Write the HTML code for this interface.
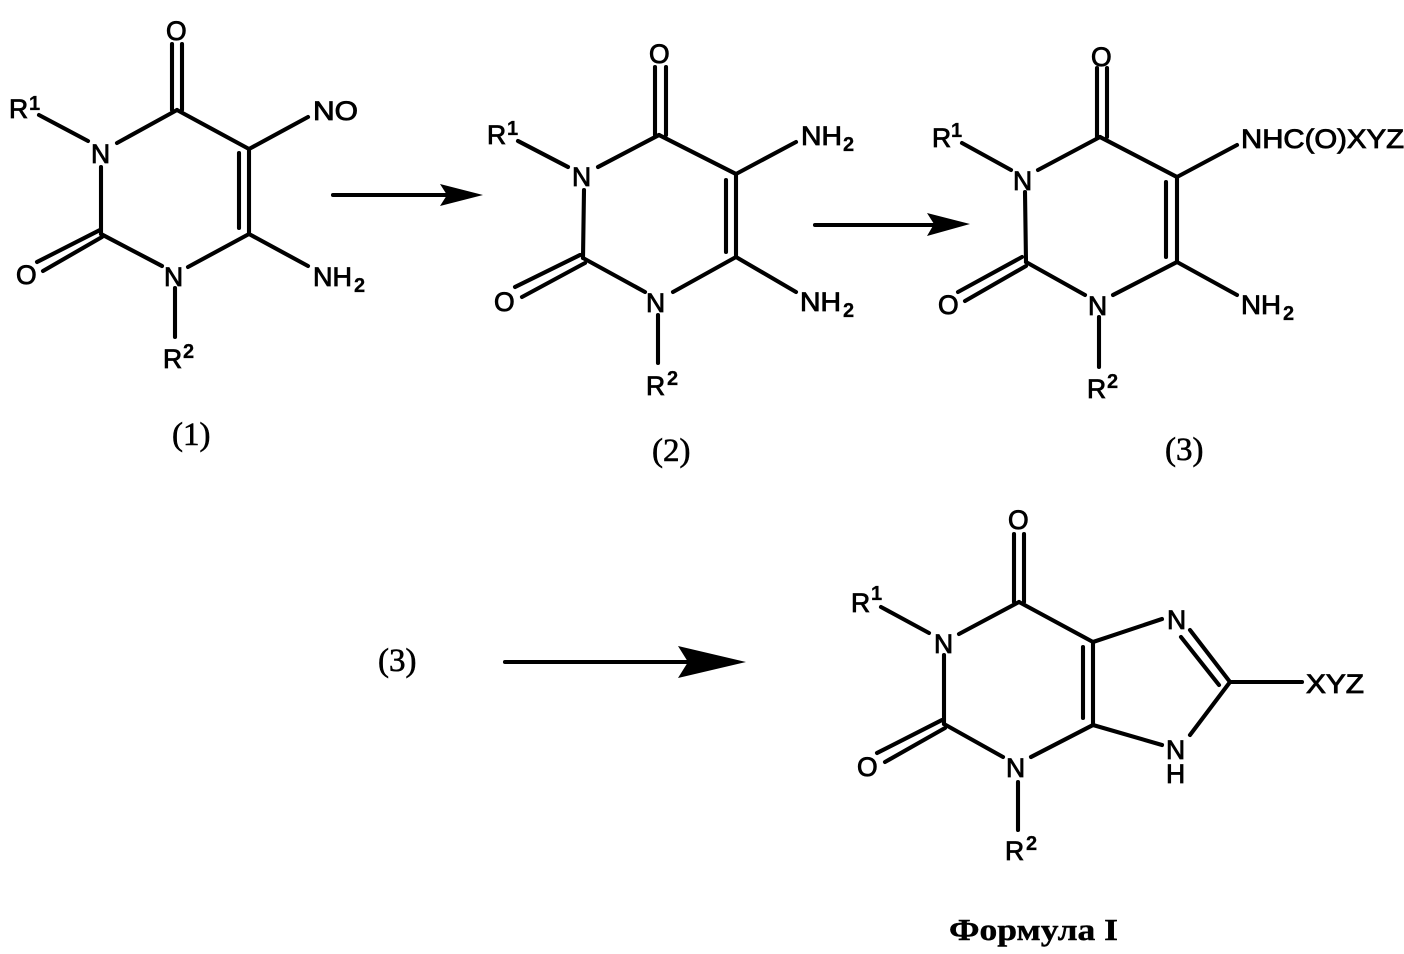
<!DOCTYPE html>
<html><head><meta charset="utf-8"><style>
html,body{margin:0;padding:0;background:#fff}
svg{display:block}
text{font-family:"Liberation Sans",sans-serif;font-size:26.5px;fill:#000;stroke:#000;stroke-width:.85px}
.s{font-size:20px;font-weight:bold;stroke-width:.3px}
.r{font-family:"Liberation Serif",serif;font-size:33px;stroke-width:.6px}
line{stroke:#000;stroke-width:4.1;stroke-linecap:round}
</style></head><body>
<svg width="1404" height="954" viewBox="0 0 1404 954" xmlns="http://www.w3.org/2000/svg">
<!-- Molecule 1 -->
<g>
<line x1="177" y1="110" x2="117" y2="143"/><line x1="177" y1="110" x2="249" y2="149"/>
<line x1="249" y1="149" x2="249" y2="234"/><line x1="239" y1="153" x2="239" y2="228"/>
<line x1="249" y1="234" x2="188" y2="267"/><line x1="162" y1="266" x2="101" y2="234"/>
<line x1="101" y1="234" x2="101" y2="167"/>
<line x1="172" y1="110" x2="172" y2="44"/><line x1="182" y1="110" x2="182" y2="44"/>
<line x1="100" y1="230" x2="37" y2="262"/><line x1="102" y1="237" x2="43" y2="271"/>
<line x1="88" y1="141" x2="39" y2="115"/><line x1="249" y1="149" x2="308" y2="117"/>
<line x1="249" y1="234" x2="308" y2="266"/><line x1="175" y1="288" x2="175" y2="337"/>
<text x="166" y="40">O</text><text x="313" y="120" textLength="45" lengthAdjust="spacingAndGlyphs">NO</text>
<text x="91" y="163">N</text><text x="164" y="286">N</text>
<text x="16" y="284">O</text><text x="313" y="286" textLength="39" lengthAdjust="spacingAndGlyphs">NH</text><text class="s" x="354" y="292">2</text>
<text x="9" y="118">R</text><text class="s" x="29" y="110">1</text>
<text x="163" y="368">R</text><text class="s" x="183" y="358">2</text>
<text class="r" x="172" y="445">(1)</text>
</g>
<!-- Molecule 2 -->
<g>
<line x1="659" y1="135" x2="598" y2="167"/><line x1="659" y1="135" x2="736" y2="174"/>
<line x1="736" y1="174" x2="736" y2="257"/><line x1="726" y1="180" x2="726" y2="252"/>
<line x1="736" y1="257" x2="673" y2="292"/><line x1="645" y1="292" x2="583" y2="258"/>
<line x1="583" y1="258" x2="584" y2="190"/>
<line x1="655" y1="135" x2="655" y2="67"/><line x1="666" y1="135" x2="666" y2="67"/>
<line x1="580" y1="255" x2="515" y2="287"/><line x1="585" y1="263" x2="522" y2="297"/>
<line x1="568" y1="167" x2="518" y2="141"/><line x1="736" y1="174" x2="796" y2="142"/>
<line x1="736" y1="257" x2="796" y2="292"/><line x1="658" y1="315" x2="658" y2="363"/>
<text x="649" y="63">O</text><text x="801" y="145" textLength="41" lengthAdjust="spacingAndGlyphs">NH</text><text class="s" x="843" y="151">2</text>
<text x="572" y="186">N</text><text x="646" y="312">N</text>
<text x="494" y="311">O</text><text x="800" y="311" textLength="41" lengthAdjust="spacingAndGlyphs">NH</text><text class="s" x="843" y="317">2</text>
<text x="487" y="144">R</text><text class="s" x="507" y="135">1</text>
<text x="646" y="395">R</text><text class="s" x="667" y="385">2</text>
<text class="r" x="652" y="461">(2)</text>
</g>
<!-- Molecule 3 -->
<g>
<line x1="1100" y1="137" x2="1038" y2="170"/><line x1="1100" y1="137" x2="1177" y2="177"/>
<line x1="1177" y1="177" x2="1177" y2="262"/><line x1="1166" y1="182" x2="1166" y2="257"/>
<line x1="1177" y1="262" x2="1113" y2="295"/><line x1="1085" y1="295" x2="1026" y2="262"/>
<line x1="1026" y1="262" x2="1025" y2="192"/>
<line x1="1097" y1="137" x2="1097" y2="68"/><line x1="1107" y1="137" x2="1107" y2="68"/>
<line x1="1022" y1="257" x2="958" y2="292"/><line x1="1026" y1="266" x2="965" y2="301"/>
<line x1="1011" y1="170" x2="962" y2="143"/><line x1="1177" y1="177" x2="1237" y2="145"/>
<line x1="1177" y1="262" x2="1237" y2="295"/><line x1="1099" y1="317" x2="1099" y2="367"/>
<text x="1091" y="66">O</text><text x="1241" y="148" textLength="163" lengthAdjust="spacingAndGlyphs">NHC(O)XYZ</text>
<text x="1013" y="190">N</text><text x="1088" y="315">N</text>
<text x="938" y="314">O</text><text x="1241" y="314" textLength="40" lengthAdjust="spacingAndGlyphs">NH</text><text class="s" x="1283" y="320">2</text>
<text x="932" y="147">R</text><text class="s" x="951" y="137">1</text>
<text x="1087" y="398">R</text><text class="s" x="1107" y="388">2</text>
<text class="r" x="1165" y="460">(3)</text>
</g>
<!-- Formula I -->
<g>
<line x1="1019" y1="602" x2="959" y2="634"/><line x1="1019" y1="602" x2="1093" y2="642"/>
<line x1="1093" y1="642" x2="1093" y2="725"/><line x1="1083" y1="647" x2="1083" y2="718"/>
<line x1="1093" y1="725" x2="1031" y2="757"/><line x1="1003" y1="757" x2="944" y2="724"/>
<line x1="944" y1="724" x2="944" y2="655"/>
<line x1="1014" y1="602" x2="1014" y2="534"/><line x1="1024" y1="602" x2="1024" y2="534"/>
<line x1="942" y1="720" x2="877" y2="753"/><line x1="945" y1="728" x2="885" y2="762"/>
<line x1="929" y1="633" x2="881" y2="607"/>
<line x1="1093" y1="642" x2="1162" y2="619"/><line x1="1190" y1="630" x2="1230" y2="682"/>
<line x1="1181" y1="637" x2="1219" y2="685"/><line x1="1230" y1="682" x2="1190" y2="735"/>
<line x1="1093" y1="725" x2="1162" y2="745"/><line x1="1230" y1="682" x2="1302" y2="682"/>
<line x1="1018" y1="782" x2="1018" y2="830"/>
<text x="1008" y="529">O</text><text x="1167" y="629">N</text><text x="1306" y="693" textLength="58" lengthAdjust="spacingAndGlyphs">XYZ</text>
<text x="934" y="653">N</text><text x="1006" y="777">N</text><text x="1166" y="759">N</text><text x="1166" y="783">H</text>
<text x="857" y="776">O</text>
<text x="851" y="612">R</text><text class="s" x="871" y="600">1</text>
<text x="1005" y="860">R</text><text class="s" x="1026" y="850">2</text>
<text x="949" y="940" textLength="169" lengthAdjust="spacingAndGlyphs" style="font-weight:bold;font-family:'Liberation Serif','Noto Serif CJK SC',serif;font-size:31px;stroke-width:.4px">Формула I</text>
</g>
<!-- Arrows -->
<line x1="333" y1="195" x2="450" y2="195"/><polygon points="440,184 483,195 440,206 447,195" fill="#000"/>
<line x1="815" y1="225" x2="935" y2="225"/><polygon points="927,213 970,224 927,236 934,224" fill="#000"/>
<line x1="505" y1="662" x2="690" y2="662"/><polygon points="678,646 746,662 678,678 688,662" fill="#000"/>
<text class="r" x="378" y="671">(3)</text>
</svg>
</body></html>
